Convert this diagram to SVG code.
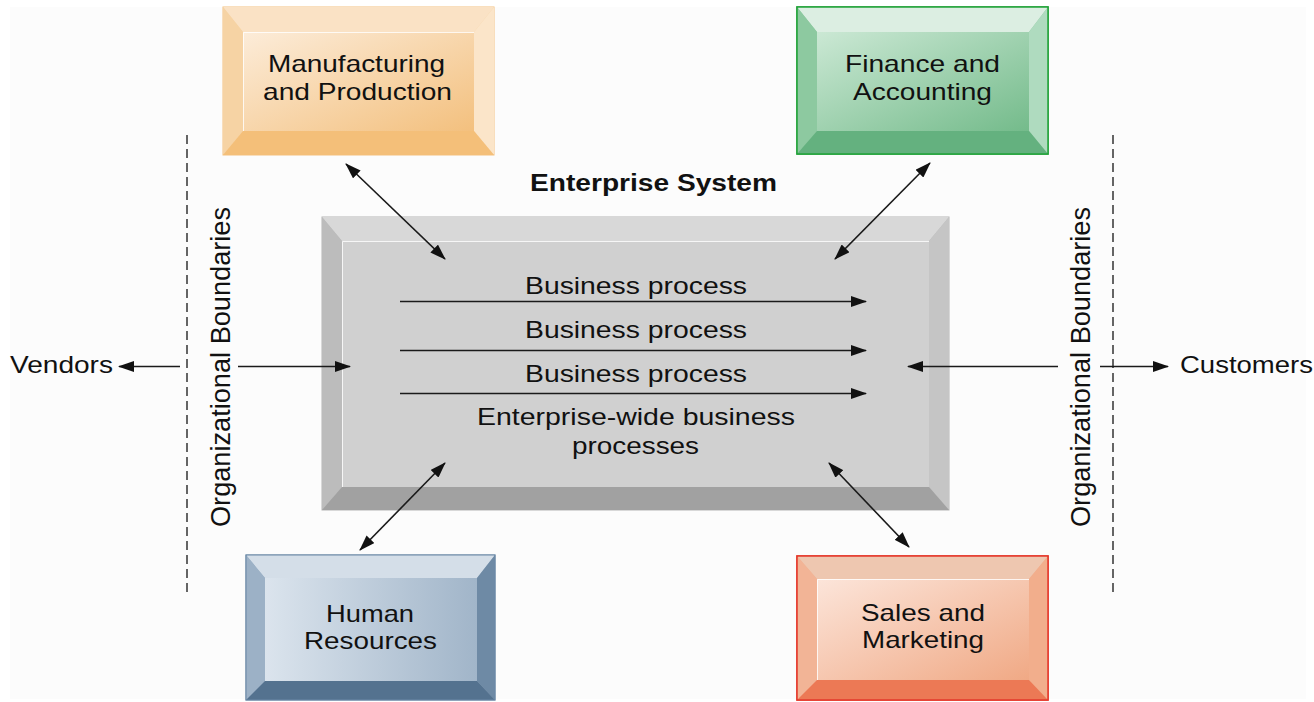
<svg xmlns="http://www.w3.org/2000/svg" width="1314" height="702" viewBox="0 0 1314 702">
<style>
  text { font-family: "Liberation Sans", Arial, sans-serif; fill: #111; }
  .lbl { font-size: 24px; }
  .bold { font-size: 23px; font-weight: bold; }
  .side { font-size: 27px; }
  .conn { stroke: #1a1a1a; stroke-width: 1.6; fill: none; }
  .bi { marker-start: url(#ah); marker-end: url(#ah); }
  .one { marker-end: url(#ah); }
  .dash { stroke: #333; stroke-width: 1.5; stroke-dasharray: 9 5; fill: none; }
  .hl { stroke: #ffffff; stroke-width: 1; fill: none; opacity: 0.8; }
</style>
<defs>
  <marker id="ah" viewBox="0 0 16 11" refX="15" refY="5.5" markerWidth="16" markerHeight="11" markerUnits="userSpaceOnUse" orient="auto-start-reverse">
    <path d="M0,0 L16,5.5 L0,11 z" fill="#111"/>
  </marker>
  <linearGradient id="gMan" x1="0" y1="0" x2="1" y2="1">
    <stop offset="0" stop-color="#fcecd9"/>
    <stop offset="1" stop-color="#f3c07e"/>
  </linearGradient>
  <linearGradient id="gFin" x1="0" y1="0" x2="1" y2="1">
    <stop offset="0" stop-color="#cbe8d4"/>
    <stop offset="1" stop-color="#74bb8b"/>
  </linearGradient>
  <linearGradient id="gHR" x1="0" y1="0" x2="1" y2="0">
    <stop offset="0" stop-color="#dbe4ed"/>
    <stop offset="1" stop-color="#a1b5c9"/>
  </linearGradient>
  <linearGradient id="gSal" x1="0" y1="0" x2="1" y2="1">
    <stop offset="0" stop-color="#fce5da"/>
    <stop offset="1" stop-color="#f0a985"/>
  </linearGradient>
</defs>

<rect x="0" y="0" width="1314" height="702" fill="#ffffff"/>
<rect x="10" y="7" width="1296" height="692" fill="#fcfcfc"/>

<!-- Organizational boundaries -->
<g id="boundary-left">
  <line class="dash" x1="187" y1="135" x2="187" y2="594"/>
  <text class="side" text-anchor="middle" textLength="320" lengthAdjust="spacingAndGlyphs" transform="translate(230,367) rotate(-90)">Organizational Boundaries</text>
</g>
<g id="boundary-right">
  <line class="dash" x1="1113" y1="135" x2="1113" y2="594"/>
  <text class="side" text-anchor="middle" textLength="320" lengthAdjust="spacingAndGlyphs" transform="translate(1090,367) rotate(-90)">Organizational Boundaries</text>
</g>

<g id="vendors"><text class="lbl" x="10" y="373" font-size="25" textLength="103" lengthAdjust="spacingAndGlyphs">Vendors</text></g>
<g id="customers"><text class="lbl" x="1180" y="373" font-size="25" textLength="133" lengthAdjust="spacingAndGlyphs">Customers</text></g>

<!-- Enterprise system -->
<g id="enterprise-system">
  <text class="bold" x="653.5" y="191" text-anchor="middle" textLength="247" lengthAdjust="spacingAndGlyphs">Enterprise System</text>
  <rect x="322" y="217" width="627" height="293" fill="#bdbdbd" stroke="#b3b3b3" stroke-width="1"/>
  <polygon points="322,217 949,217 929,241 342,241" fill="#d8d8d8"/>
  <polygon points="322,217 342,241 342,487 322,510" fill="#bcbcbc"/>
  <polygon points="949,217 929,241 929,487 949,510" fill="#c5c5c5"/>
  <polygon points="322,510 342,487 929,487 949,510" fill="#a1a1a1"/>
  <rect x="342" y="241" width="587" height="246" fill="#d0d0d0"/>
  <polyline class="hl" points="342.5,487 342.5,241.5 929,241.5"/>
  <text class="lbl" x="636" y="294" text-anchor="middle" textLength="222" lengthAdjust="spacingAndGlyphs">Business process</text>
  <text class="lbl" x="636" y="338" text-anchor="middle" textLength="222" lengthAdjust="spacingAndGlyphs">Business process</text>
  <text class="lbl" x="636" y="382" text-anchor="middle" textLength="222" lengthAdjust="spacingAndGlyphs">Business process</text>
  <text class="lbl" x="636" y="425" text-anchor="middle" textLength="318" lengthAdjust="spacingAndGlyphs">Enterprise-wide business</text>
  <text class="lbl" x="635.5" y="454" text-anchor="middle" textLength="127" lengthAdjust="spacingAndGlyphs">processes</text>
</g>

<!-- Manufacturing and Production -->
<g id="manufacturing">
  <rect x="223" y="7" width="271" height="148" fill="#f6d4a6" stroke="#f4c07e" stroke-width="1"/>
  <polygon points="223,7 494,7 474,32 243,32" fill="#fae2c5"/>
  <polygon points="223,7 243,32 243,131 223,155" fill="#f6d3a4"/>
  <polygon points="494,7 474,32 474,131 494,155" fill="#fbe5c9"/>
  <polygon points="223,155 243,131 474,131 494,155" fill="#f4bf79"/>
  <rect x="243" y="32" width="231" height="99" fill="url(#gMan)"/>
  <polyline class="hl" points="243.5,131 243.5,32.5 474,32.5"/>
  <text class="lbl" x="356.5" y="72" text-anchor="middle" textLength="177" lengthAdjust="spacingAndGlyphs">Manufacturing</text>
  <text class="lbl" x="357.5" y="100" text-anchor="middle" textLength="189" lengthAdjust="spacingAndGlyphs">and Production</text>
</g>

<!-- Finance and Accounting -->
<g id="finance">
  <rect x="797" y="7" width="251" height="147" fill="#8dc9a0" stroke="#22a33a" stroke-width="1.5"/>
  <polygon points="797,7 1048,7 1029,32 817,32" fill="#dceee2"/>
  <polygon points="797,7 817,32 817,131 797,154" fill="#8dc9a0"/>
  <polygon points="1048,7 1029,32 1029,131 1048,154" fill="#afdbbf"/>
  <polygon points="797,154 817,131 1029,131 1048,154" fill="#64b17f"/>
  <rect x="817" y="32" width="212" height="99" fill="url(#gFin)"/>
  <rect x="797" y="7" width="251" height="147" fill="none" stroke="#22a33a" stroke-width="1.5"/>
  <text class="lbl" x="922.5" y="72" text-anchor="middle" textLength="155" lengthAdjust="spacingAndGlyphs">Finance and</text>
  <text class="lbl" x="922.5" y="100" text-anchor="middle" textLength="139" lengthAdjust="spacingAndGlyphs">Accounting</text>
</g>

<!-- Human Resources -->
<g id="human-resources">
  <rect x="246" y="555" width="249" height="145" fill="#9cb1c6" stroke="#6a88a6" stroke-width="1"/>
  <polygon points="246,555 495,555 477,578 265,578" fill="#d4dee8"/>
  <polygon points="246,555 265,578 265,681 246,700" fill="#9cb1c6"/>
  <polygon points="495,555 477,578 477,681 495,700" fill="#6e8aa5"/>
  <polygon points="246,700 265,681 477,681 495,700" fill="#54728f"/>
  <rect x="265" y="578" width="212" height="103" fill="url(#gHR)"/>
  <rect x="246" y="555" width="249" height="145" fill="none" stroke="#6a88a6" stroke-width="1"/>
  <text class="lbl" x="370" y="622" text-anchor="middle" textLength="88" lengthAdjust="spacingAndGlyphs">Human</text>
  <text class="lbl" x="370.5" y="649" text-anchor="middle" textLength="133" lengthAdjust="spacingAndGlyphs">Resources</text>
</g>

<!-- Sales and Marketing -->
<g id="sales">
  <rect x="797" y="556" width="251" height="144" fill="#f2b496" stroke="#e5392b" stroke-width="1.5"/>
  <polygon points="797,556 1048,556 1029,579 817,579" fill="#eec7b0"/>
  <polygon points="797,556 817,579 817,680 797,700" fill="#f2b496"/>
  <polygon points="1048,556 1029,579 1029,680 1048,700" fill="#f2ae8c"/>
  <polygon points="797,700 817,680 1029,680 1048,700" fill="#ec7955"/>
  <rect x="817" y="579" width="212" height="101" fill="url(#gSal)"/>
  <polyline class="hl" points="817.5,680 817.5,579.5 1029,579.5"/>
  <rect x="797" y="556" width="251" height="144" fill="none" stroke="#e5392b" stroke-width="1.5"/>
  <text class="lbl" x="923" y="621" text-anchor="middle" textLength="124" lengthAdjust="spacingAndGlyphs">Sales and</text>
  <text class="lbl" x="923" y="648" text-anchor="middle" textLength="122" lengthAdjust="spacingAndGlyphs">Marketing</text>
</g>

<!-- Connectors -->
<g id="connectors">
  <line class="conn one" x1="400" y1="301.5" x2="866" y2="301.5"/>
  <line class="conn one" x1="400" y1="350.5" x2="866" y2="350.5"/>
  <line class="conn one" x1="400" y1="393.5" x2="866" y2="393.5"/>
  <line class="conn bi" x1="346" y1="164" x2="445" y2="259"/>
  <line class="conn bi" x1="930" y1="163" x2="835" y2="259"/>
  <line class="conn bi" x1="445" y1="463" x2="360" y2="550"/>
  <line class="conn bi" x1="829" y1="463" x2="909" y2="547"/>
  <line class="conn one" x1="180" y1="366.5" x2="119" y2="366.5"/>
  <line class="conn one" x1="238" y1="366.5" x2="350" y2="366.5"/>
  <line class="conn one" x1="1058" y1="366.5" x2="908" y2="366.5"/>
  <line class="conn one" x1="1100" y1="366.5" x2="1168" y2="366.5"/>
</g>
</svg>
